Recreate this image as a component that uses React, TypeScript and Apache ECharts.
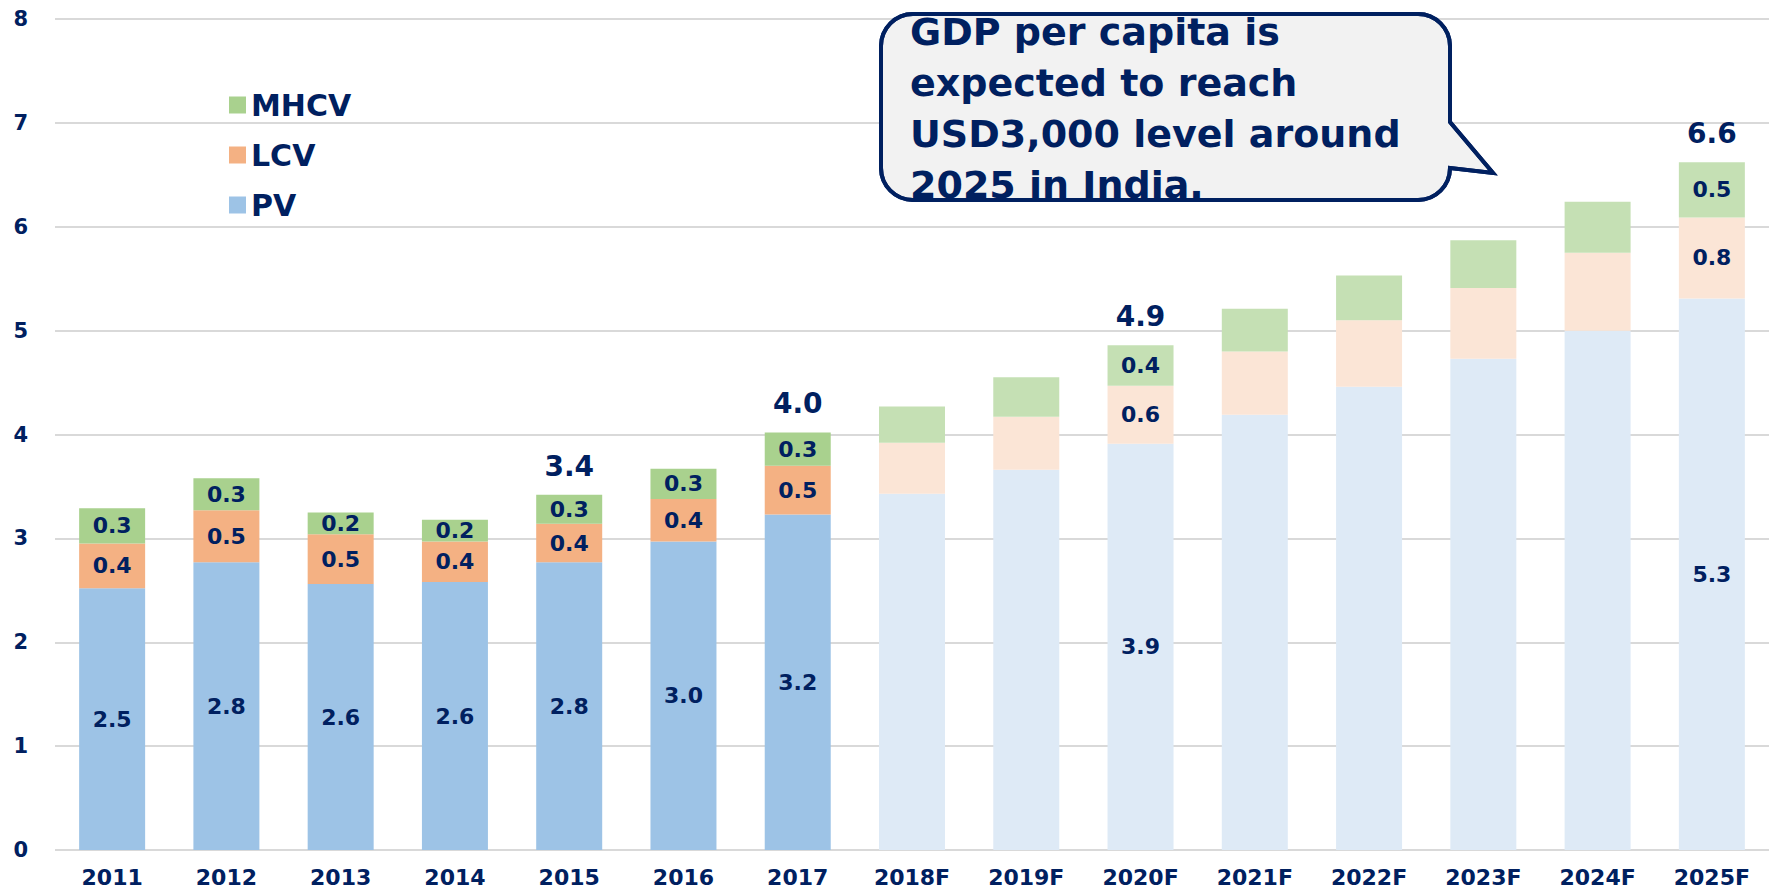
import React, { useEffect, useRef } from "react";
import * as echarts from "echarts";

const categories = ["2011", "2012", "2013", "2014", "2015", "2016", "2017", "2018F", "2019F", "2020F", "2021F", "2022F", "2023F", "2024F", "2025F"];
const pv = [2.52, 2.77, 2.56, 2.58, 2.77, 2.97, 3.23, 3.43, 3.66, 3.91, 4.19, 4.46, 4.73, 5.0, 5.31];
const lcv = [0.43, 0.5, 0.48, 0.39, 0.37, 0.41, 0.47, 0.49, 0.51, 0.56, 0.61, 0.64, 0.68, 0.75, 0.78];
const mhcv = [0.34, 0.31, 0.21, 0.21, 0.28, 0.29, 0.32, 0.35, 0.38, 0.39, 0.41, 0.43, 0.46, 0.49, 0.53];
const forecastCategories = ["2018F", "2019F", "2020F", "2021F", "2022F", "2023F", "2024F", "2025F"];
const segmentLabelCategories = ["2011", "2012", "2013", "2014", "2015", "2016", "2017", "2020F", "2025F"];
const totalLabelCategories = ["2015", "2017", "2020F", "2025F"];
const yTicks = [0, 1, 2, 3, 4, 5, 6, 7, 8];
const calloutLines = ["GDP per capita is", "expected to reach", "USD3,000 level around", "2025 in India."];

const NAVY = "#002060";
const FONT = '"DejaVu Sans", Verdana, sans-serif';

const colorsActual = { PV: "#9DC3E6", LCV: "#F4B183", MHCV: "#A9D18E" };
const colorsForecast = { PV: "#DEEAF6", LCV: "#FBE5D6", MHCV: "#C5E0B4" };

const calloutPath =
  "M32,0 H537 A32,32 0 0 1 569,32 V108 L612,159 L569,154 A32,32 0 0 1 537,186 H32 A32,32 0 0 1 0,154 V32 A32,32 0 0 1 32,0 Z";

let registered = false;

export default function App() {
  const ref = useRef<HTMLDivElement>(null);

  useEffect(() => {
    if (!ref.current) return;
    if (!registered) {
      echarts.graphic.registerShape("callout", echarts.graphic.extendPath(calloutPath, {}) as any);
      registered = true;
    }
    const chart = echarts.init(ref.current, undefined, { renderer: "svg" });

    const makeSeries = (name: "PV" | "LCV" | "MHCV", values: number[]) => ({
      name,
      type: "bar",
      stack: "total",
      barWidth: 66,
      itemStyle: { color: colorsActual[name] },
      label: {
        show: true,
        position: "inside",
        color: NAVY,
        fontFamily: FONT,
        fontWeight: "bold",
        fontSize: 22,
        formatter: (p: any) => Number(p.value).toFixed(1),
      },
      data: values.map((v, i) => {
        const cat = categories[i];
        const isF = forecastCategories.includes(cat);
        return {
          value: v,
          itemStyle: isF ? { color: colorsForecast[name] } : undefined,
          label: { show: segmentLabelCategories.includes(cat) },
        };
      }),
    });

    const totals = categories.map((c, i) =>
      totalLabelCategories.includes(c) ? pv[i] + lcv[i] + mhcv[i] : null
    );

    chart.setOption({
      animation: false,
      backgroundColor: "#ffffff",
      grid: { left: 55, right: -6, top: 19, bottom: 39, containLabel: false },
      legend: {
        data: ["MHCV", "LCV", "PV"],
        orient: "vertical",
        left: 224,
        top: 85,
        itemWidth: 17,
        itemHeight: 17,
        itemGap: 20,
        icon: "rect",
        textStyle: { color: NAVY, fontFamily: FONT, fontWeight: "bold", fontSize: 30, lineHeight: 30 },
      },
      xAxis: {
        type: "category",
        data: categories,
        axisLine: { show: false },
        axisTick: { show: false },
        axisLabel: { color: NAVY, fontFamily: FONT, fontWeight: "bold", fontSize: 22, margin: 16 },
      },
      yAxis: {
        type: "value",
        min: yTicks[0],
        max: yTicks[yTicks.length - 1],
        interval: 1,
        axisLine: { show: false },
        axisTick: { show: false },
        splitLine: { lineStyle: { color: "#D9D9D9", width: 2 } },
        axisLabel: { color: NAVY, fontFamily: FONT, fontWeight: "bold", fontSize: 21, margin: 27 },
      },
      series: [
        makeSeries("PV", pv),
        makeSeries("LCV", lcv),
        makeSeries("MHCV", mhcv),
        {
          name: "Total",
          type: "scatter",
          symbolSize: 1,
          itemStyle: { color: "transparent", opacity: 1 },
          z: 5,
          label: {
            show: true,
            position: "top",
            distance: 14,
            color: NAVY,
            opacity: 1,
            fontFamily: FONT,
            fontWeight: "bold",
            fontSize: 28,
            formatter: (p: any) => (p.value == null ? "" : Number(p.value).toFixed(1)),
          },
          data: totals,
        },
      ],
      graphic: [
        {
          type: "callout",
          x: 881,
          y: 14,
          z: 10,
          style: { fill: "#F2F2F2", stroke: NAVY, lineWidth: 4 },
        },
        ...calloutLines.map((t, i) => ({
          type: "text",
          x: 910,
          y: 13 + i * 51,
          z: 11,
          style: {
            text: t,
            fill: NAVY,
            font: `bold 38px ${FONT}`,
            textAlign: "left",
          },
        })),
        {
          type: "callout",
          x: 881,
          y: 14,
          z: 12,
          style: { fill: "none", stroke: NAVY, lineWidth: 4 },
        },
      ],
    });

    return () => chart.dispose();
  }, []);

  return (
    <div
      ref={ref}
      style={{ position: "fixed", left: 0, top: 0, width: "1769px", height: "889px" }}
    />
  );
}
